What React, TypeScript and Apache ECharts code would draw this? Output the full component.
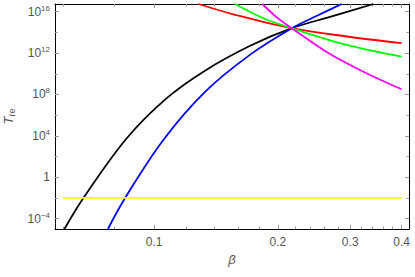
import React, { useEffect, useRef } from "react";
import * as echarts from "echarts";

// beta values and log10(T_re) exponents
const BETA_BLACK = [0.0605, 0.0673, 0.0855, 0.107, 0.133, 0.1713, 0.2163, 0.268, 0.3417];
const EXP_BLACK = [-5.0, -2, 3.7, 7.6, 10.3, 12.7, 14.4, 15.5, 16.74];

const BETA_BLUE = [0.0772, 0.085, 0.1053, 0.133, 0.1713, 0.2163, 0.249, 0.286];
const EXP_BLUE = [-5.0, -2, 3.6, 8.25, 11.85, 14.4, 15.6, 16.74];

const BETA_RED = [0.1282, 0.1574, 0.2163, 0.2944, 0.4];
const EXP_RED = [16.74, 15.7, 14.4, 13.6, 12.95];

const BETA_GREEN = [0.1574, 0.1845, 0.2163, 0.2944, 0.4];
const EXP_GREEN = [16.74, 15.36, 14.4, 12.78, 11.65];

const BETA_MAGENTA = [0.1835, 0.1988, 0.2163, 0.268, 0.323, 0.4];
const EXP_MAGENTA = [16.74, 15.45, 14.4, 11.9, 10.2, 8.5];

const BETA_YELLOW = [0.06, 0.4];
const EXP_YELLOW = [-2, -2];

const X_MAJOR = [0.1, 0.2, 0.3, 0.4];
const X_MINOR = [0.06, 0.08, 0.12, 0.14, 0.16, 0.18, 0.22, 0.24, 0.26, 0.28, 0.32, 0.34, 0.36, 0.38];
const Y_MAJOR = [-4, 0, 4, 8, 12, 16];
const Y_MINOR = [-2, 2, 6, 10, 14];

const FONT = "'Liberation Sans', Arial, Helvetica, sans-serif";
const LABEL_COLOR = "#555";
const TICK_COLOR = "#999";

const X_MIN = Math.log10(0.0574);
const X_MAX = Math.log10(0.417);
const Y_MIN = -5.0;
const Y_MAX = 16.74;

function pts(beta: number[], ex: number[]) {
  return beta.map((b, i) => [Math.log10(b), ex[i]]);
}

function xAxis(position: string, ticks: number[], len: number, labels: boolean, line: boolean, name?: boolean): any {
  return {
    type: "value",
    position,
    min: X_MIN,
    max: X_MAX,
    splitLine: { show: false },
    axisLine: { show: line, onZero: false, lineStyle: { color: "#000", width: 1 } },
    axisTick: {
      show: true,
      inside: true,
      length: len,
      customValues: ticks.map((v) => Math.log10(v)),
      lineStyle: { color: TICK_COLOR, width: 1 },
    },
    axisLabel: labels
      ? {
          show: true,
          customValues: ticks.map((v) => Math.log10(v)),
          formatter: (v: number) => String(Math.round(Math.pow(10, v) * 10) / 10),
          color: LABEL_COLOR,
          fontSize: 12,
          fontFamily: FONT,
          margin: 7,
        }
      : { show: false },
    ...(name
      ? {
          name: "β",
          nameLocation: "middle",
          nameGap: 21,
          nameTextStyle: { color: LABEL_COLOR, fontSize: 13, fontStyle: "italic", fontFamily: FONT },
        }
      : {}),
  };
}

function yAxis(position: string, ticks: number[], len: number, labels: boolean, line: boolean, name?: boolean): any {
  return {
    type: "value",
    position,
    min: Y_MIN,
    max: Y_MAX,
    splitLine: { show: false },
    axisLine: { show: line, onZero: false, lineStyle: { color: "#000", width: 1 } },
    axisTick: {
      show: true,
      inside: true,
      length: len,
      customValues: ticks,
      lineStyle: { color: TICK_COLOR, width: 1 },
    },
    axisLabel: labels
      ? {
          show: true,
          customValues: ticks,
          formatter: (v: number) => {
            const e = Math.round(v);
            if (e === 0) return "{b|1}";
            return "{b|10}{s|" + (e < 0 ? "\u2212" + -e : String(e)) + "}";
          },
          color: LABEL_COLOR,
          fontFamily: FONT,
          margin: 5,
          rich: {
            b: { fontSize: 12, lineHeight: 15, color: LABEL_COLOR, fontFamily: FONT },
            s: { fontSize: 8, lineHeight: 8, verticalAlign: "top", color: LABEL_COLOR, fontFamily: FONT },
          },
        }
      : { show: false },
    ...(name
      ? {
          name: "{t|T}{r|re}",
          nameLocation: "middle",
          nameGap: 30,
          nameRotate: 90,
          nameTextStyle: {
            color: LABEL_COLOR,
            fontFamily: FONT,
            rich: {
              t: { fontSize: 13, fontStyle: "italic", lineHeight: 16, color: LABEL_COLOR, fontFamily: FONT },
              r: { fontSize: 9, lineHeight: 9, verticalAlign: "bottom", color: LABEL_COLOR, fontFamily: FONT },
            },
          },
        }
      : {}),
  };
}

function line(name: string, color: string, beta: number[], ex: number[], z: number): any {
  return {
    name,
    type: "line",
    xAxisIndex: 0,
    yAxisIndex: 0,
    data: pts(beta, ex),
    showSymbol: false,
    smooth: 0.35,
    clip: true,
    z,
    lineStyle: { color, width: 1.8 },
  };
}

export default function App() {
  const ref = useRef<HTMLDivElement>(null);
  useEffect(() => {
    document.body.style.margin = "0";
    if (!ref.current) return;
    const chart = echarts.init(ref.current, undefined, { renderer: "svg" });
    chart.setOption({
      animation: false,
      backgroundColor: "#fff",
      grid: { left: 55, right: 6, top: 4, bottom: 48, containLabel: false, outerBoundsMode: "none" },
      xAxis: [
        xAxis("bottom", X_MAJOR, 4, true, true, true),
        xAxis("bottom", X_MINOR, 2.5, false, false),
        xAxis("top", X_MAJOR, 4, false, true),
        xAxis("top", X_MINOR, 2.5, false, false),
      ],
      yAxis: [
        yAxis("left", Y_MAJOR, 4, true, true, true),
        yAxis("left", Y_MINOR, 2.5, false, false),
        yAxis("right", Y_MAJOR, 4, false, true),
        yAxis("right", Y_MINOR, 2.5, false, false),
      ],
      series: [
        line("black", "#000000", BETA_BLACK, EXP_BLACK, 2),
        line("blue", "#0000ff", BETA_BLUE, EXP_BLUE, 3),
        line("red", "#ff0000", BETA_RED, EXP_RED, 4),
        line("green", "#00ff00", BETA_GREEN, EXP_GREEN, 5),
        line("magenta", "#ff00ff", BETA_MAGENTA, EXP_MAGENTA, 6),
        line("yellow", "#ffff00", BETA_YELLOW, EXP_YELLOW, 7),
      ],
    });
    return () => chart.dispose();
  }, []);
  return <div ref={ref} style={{ width: 415, height: 277 }} />;
}
